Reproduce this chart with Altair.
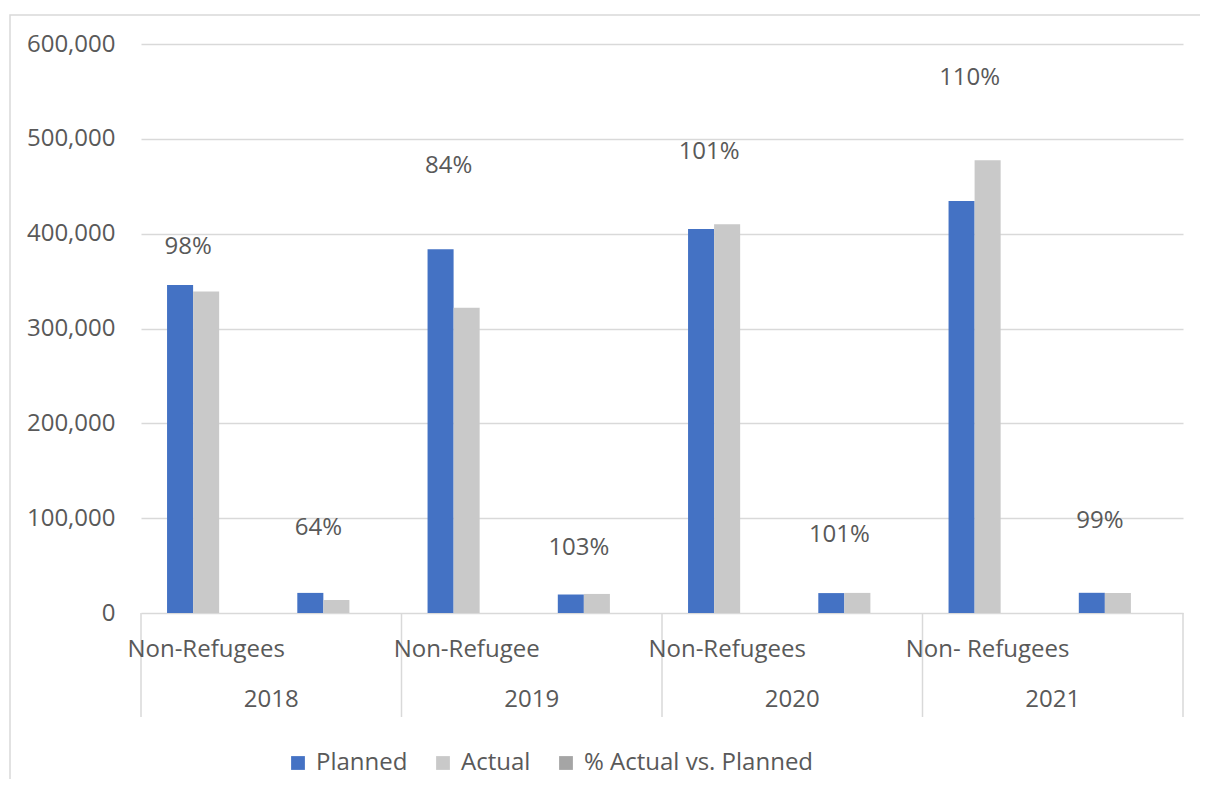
import altair as alt
import pandas as pd

# ---- data ----
years = ["2018", "2019", "2020", "2021"]
cat_ids = ["2018 A", "2018 B", "2019 A", "2019 B", "2020 A", "2020 B", "2021 A", "2021 B"]
cat_labels = ["Non-Refugees", "", "Non-Refugee", "", "Non-Refugees", "", "Non- Refugees", ""]
planned = [346000, 21200, 383500, 19500, 405000, 21000, 434500, 21300]
actual = [339000, 13700, 322000, 20100, 410000, 21200, 477500, 21100]
pct = [0.98, 0.64, 0.84, 1.03, 1.01, 1.01, 1.10, 0.99]
y_ticks = [0, 100000, 200000, 300000, 400000, 500000, 600000]
# where the percentage labels sit (in axis units), as placed in the reference
pct_label_y = [386000, 89600, 471400, 68500, 486100, 82300, 564200, 97000]

series = ["Planned", "Actual", "% Actual vs. Planned"]
colors = ["#4472C4", "#C9C9C9", "#A5A5A5"]

FONT = "Open Sans"
TXT = "#595959"
FS = 24
W, H = 1042, 569

# each category is split into 5 equal slots: gap, Planned, Actual, %, gap
slot_keys = ["L", "P", "A", "Q", "R"]
slots = [f"{c}|{k}" for c in cat_ids for k in slot_keys]

rows = []
for i, c in enumerate(cat_ids):
    rows.append({"slot": f"{c}|P", "series": series[0], "value": planned[i]})
    rows.append({"slot": f"{c}|A", "series": series[1], "value": actual[i]})
    rows.append({"slot": f"{c}|Q", "series": series[2], "value": pct[i]})
bars_df = pd.DataFrame(rows)

lab_df = pd.DataFrame({"slot": [f"{c}|A" for c in cat_ids], "label": cat_labels,
                       "pct": pct, "ly": pct_label_y})
year_df = pd.DataFrame({"year": years,
                        "start": [f"{c}|L" for c in cat_ids[0::2]],
                        "mid": [f"{c}|L" for c in cat_ids[1::2]]})

xscale = alt.Scale(domain=slots, paddingInner=0, paddingOuter=0)
yscale = alt.Scale(domain=[0, 600000], nice=False)
yaxis = alt.Axis(values=y_ticks, labelExpr="format(datum.value, ',')", grid=True,
                 gridColor="#D9D9D9", gridWidth=1.3, domain=False, ticks=False,
                 labelPadding=26, labelFontSize=FS, labelFont=FONT,
                 labelColor=TXT, title=None)

bars = alt.Chart(bars_df).mark_bar().encode(
    x=alt.X("slot:N", scale=xscale, axis=None),
    y=alt.Y("value:Q", scale=yscale, axis=yaxis),
    color=alt.Color("series:N", scale=alt.Scale(domain=series, range=colors),
                    legend=alt.Legend(orient="none", legendX=145, legendY=707, direction="horizontal",
                                      title=None, symbolType="square", symbolSize=190,
                                      symbolStrokeWidth=0, labelFont=FONT, labelFontSize=FS,
                                      labelColor=TXT, columnPadding=23, labelOffset=6,
                                      labelLimit=0, padding=0)),
)

pct_text = alt.Chart(lab_df).mark_text(font=FONT, fontSize=FS, color=TXT, dx=-18).encode(
    x=alt.X("slot:N", scale=xscale, axis=None),
    y=alt.Y("ly:Q", scale=yscale, axis=yaxis),
    text=alt.Text("pct:Q", format=".0%"),
)

cat_text = alt.Chart(lab_df).mark_text(font=FONT, fontSize=FS, color=TXT).encode(
    x=alt.X("slot:N", scale=xscale, axis=None),
    y=alt.value(H + 37),
    text="label:N",
)

year_text = alt.Chart(year_df).mark_text(font=FONT, fontSize=FS, color=TXT).encode(
    x=alt.X("mid:N", scale=xscale, axis=None, bandPosition=0),
    y=alt.value(H + 87),
    text="year:N",
)

sep = alt.Chart(year_df).mark_rule(color="#D9D9D9", strokeWidth=1.5).encode(
    x=alt.X("start:N", scale=xscale, axis=None, bandPosition=0),
    y=alt.value(H),
    y2=alt.value(H + 104),
)

sep_end = alt.Chart(pd.DataFrame({"k": [0]})).mark_rule(color="#D9D9D9", strokeWidth=1.5).encode(
    x=alt.value(W),
    y=alt.value(H),
    y2=alt.value(H + 104),
)

border = alt.Chart(pd.DataFrame({"k": [0]})).mark_rect(
    fillOpacity=0, stroke="#D9D9D9", strokeWidth=1.5
).encode(
    x=alt.value(-131), x2=alt.value(1120),
    y=alt.value(-29), y2=alt.value(780),
)

chart = alt.layer(bars, border, sep, sep_end, pct_text, cat_text, year_text).properties(
    width=W, height=H,
    padding={"left": 133, "top": 36, "right": 17, "bottom": 166},
    autosize=alt.AutoSizeParams(type="none"),
).configure_view(stroke=None)

chart.save("out.html", embed_options={"renderer": "svg", "actions": False})
